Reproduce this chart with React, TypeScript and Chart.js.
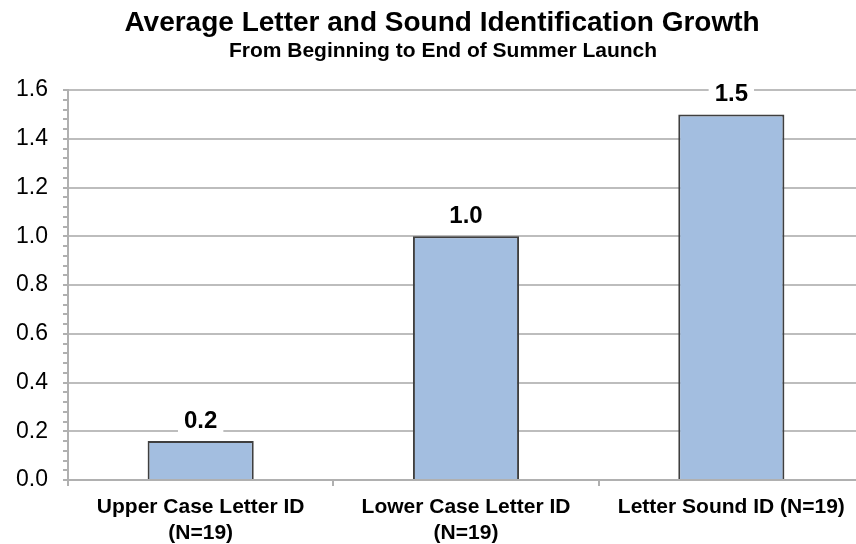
import React, { useEffect, useRef } from "react";
import { Chart, registerables } from "chart.js";

Chart.register(...registerables);

const categories: (string | string[])[] = [
  ["Upper Case Letter ID", "(N=19)"],
  ["Lower Case Letter ID", "(N=19)"],
  "Letter Sound ID (N=19)",
];
const growthValues: number[] = [0.16, 1.0, 1.5];
const titleText = "Average Letter and Sound Identification Growth";
const subtitleText = "From Beginning to End of Summer Launch";
const yMin = 0;
const yMax = 1.6;
const yMajorStep = 0.2;
const yMinorStep = 0.04;

const FONT = "'Liberation Sans', Arial, Helvetica, sans-serif";

const titlePlugin = {
  id: "customTitle",
  afterDraw(chart: any) {
    const ctx = chart.ctx;
    ctx.save();
    ctx.fillStyle = "#000";
    ctx.textAlign = "center";
    ctx.textBaseline = "alphabetic";
    ctx.font = `bold 28px ${FONT}`;
    ctx.fillText(titleText, 442, 31);
    ctx.font = `bold 21px ${FONT}`;
    ctx.fillText(subtitleText, 443, 57);
    ctx.restore();
  },
};

const labelPlugin = {
  id: "barLabels",
  afterDatasetsDraw(chart: any) {
    const ctx = chart.ctx;
    const meta = chart.getDatasetMeta(0);
    ctx.save();
    ctx.font = `bold 24px ${FONT}`;
    ctx.textAlign = "center";
    ctx.textBaseline = "middle";
    meta.data.forEach((bar: any, i: number) => {
      const txt = growthValues[i].toFixed(1);
      const w = ctx.measureText(txt).width;
      const cy = bar.y - 21;
      ctx.fillStyle = "#fff";
      ctx.fillRect(bar.x - w / 2 - 6, cy - 13, w + 12, 28);
      ctx.fillStyle = "#000";
      ctx.fillText(txt, bar.x, cy + 1);
    });
    ctx.restore();
  },
};

const isMajor = (v: number) =>
  Math.abs(v / yMajorStep - Math.round(v / yMajorStep)) < 1e-6;

export default function App() {
  const ref = useRef<HTMLCanvasElement>(null);
  useEffect(() => {
    if (!ref.current) return;
    const chart = new Chart(ref.current, {
      type: "bar",
      data: {
        labels: categories,
        datasets: [
          {
            data: growthValues,
            backgroundColor: "#a3bee0",
            borderColor: "#3f3f3f",
            borderWidth: 2,
            categoryPercentage: 0.8,
            barPercentage: 0.5,
          },
        ],
      },
      options: {
        responsive: false,
        animation: false,
        layout: { padding: { top: 90, left: 0, right: 0, bottom: 0 } },
        plugins: {
          legend: { display: false },
          tooltip: { enabled: false },
          title: { display: false },
        },
        scales: {
          x: {
            afterFit: (s: any) => {
              s.height = 64;
            },
            grid: {
              drawOnChartArea: false,
              drawTicks: true,
              tickLength: 6,
              color: "#b0b0b0",
              lineWidth: 2,
              offset: true,
            },
            border: { display: true, color: "#b0b0b0", width: 2 },
            ticks: {
              color: "#000",
              font: { family: FONT, size: 21, weight: "bold" },
              padding: 9,
              maxRotation: 0,
              autoSkip: false,
            },
          },
          y: {
            min: yMin,
            max: yMax,
            afterFit: (s: any) => {
              s.width = 68;
            },
            grid: {
              color: (c: any) =>
                c.tick && isMajor(c.tick.value) ? "#bdbdbd" : "transparent",
              tickColor: "#b0b0b0",
              lineWidth: 2,
              tickLength: 5,
            },
            border: { display: true, color: "#b0b0b0", width: 2 },
            ticks: {
              stepSize: yMinorStep,
              autoSkip: false,
              color: "#000",
              padding: 15,
              font: { family: FONT, size: 23 },
              callback: (v: any) => (isMajor(Number(v)) ? Number(v).toFixed(1) : ""),
            },
          },
        },
      },
      plugins: [titlePlugin, labelPlugin],
    });
    return () => chart.destroy();
  }, []);
  return (
    <div
      style={{
        position: "fixed",
        left: 0,
        top: 0,
        width: 856,
        height: 544,
        overflow: "hidden",
        background: "#fff",
      }}
    >
      <canvas ref={ref} width={864} height={544} style={{ display: "block" }} />
    </div>
  );
}
